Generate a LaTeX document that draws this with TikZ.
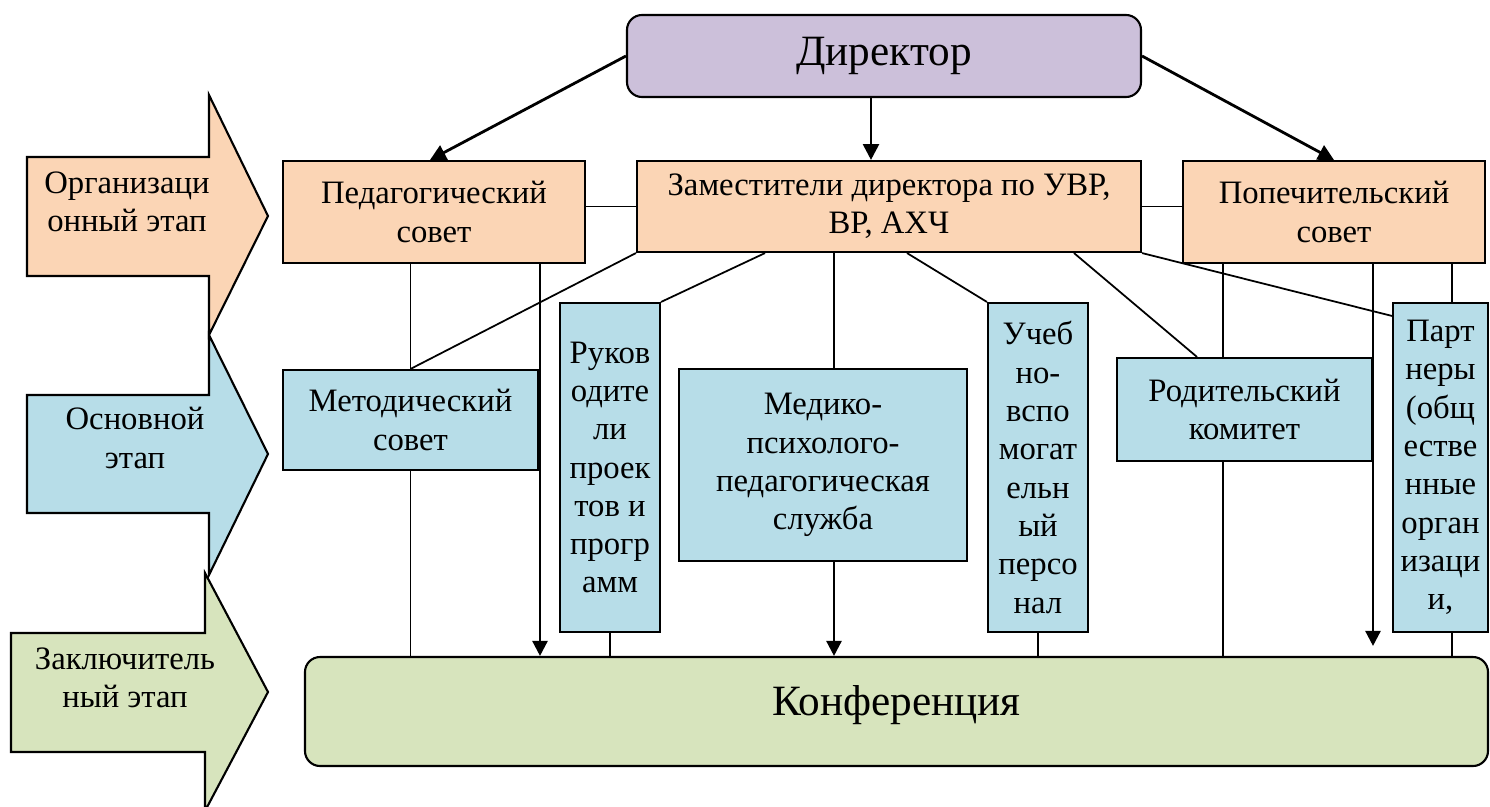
\documentclass[tikz,border=0pt]{standalone}
\usepackage{fontspec}
\setmainfont{Liberation Serif}
\usetikzlibrary{arrows.meta}
\definecolor{dirfill}{HTML}{CCC0DA}
\definecolor{orgfill}{HTML}{FBD5B5}
\definecolor{osnfill}{HTML}{B7DDE8}
\definecolor{zakfill}{HTML}{D7E4BD}
\newcommand{\txt}{\fontsize{9.3}{10.9}\selectfont}
\newcommand{\bigtxt}{\fontsize{12.3}{14}\selectfont}

\begin{document}
\begin{tikzpicture}[x=0.1mm, y=-0.1mm,
    box/.style={draw, line width=0.6pt, align=center, inner sep=0pt, font=\txt},
    stage/.style={draw, line width=0.6pt},
    conn/.style={line width=0.5pt},
    arr/.style={line width=0.7pt, -{Triangle[length=4.3pt,width=4.3pt]}},
    bigarr/.style={line width=0.8pt, -{Triangle[length=4.5pt,width=4.5pt]}}]
\clip (0,0) rectangle (1490,807);

% stage arrows
\draw[stage, fill=orgfill]
    (27,157) -- (209,157) -- (209,95) -- (268,216) --
    (209,335) -- (209,276) -- (27,276) -- cycle;
\draw[stage, fill=osnfill]
    (27,395) -- (209,395) -- (209,335) -- (268,454) --
    (209,575) -- (209,513) -- (27,513) -- cycle;
\draw[stage, fill=zakfill]
    (11,633) -- (205,633) -- (205,573) -- (268,692) --
    (205,811) -- (205,752) -- (11,752) -- cycle;
\node[align=center, font=\txt] (org) at (127,202) {Организаци\\онный этап};
\node[align=center, font=\txt] (osn) at (135,438) {Основной\\этап};
\node[align=center, font=\txt] (zak) at (125,678) {Заключитель\\ный этап};

% boxes
\node[box, fill=dirfill, rounded corners=1.5mm, font=\bigtxt,
    minimum width=51.4mm, minimum height=8.2mm] (dir) at (884,56) {Директор};
\node[box, fill=orgfill, minimum width=30.2mm, minimum height=10.2mm]
    (ped) at (434,212) {Педагогический\\совет};
\node[box, fill=orgfill, minimum width=50.4mm, minimum height=9.1mm]
    (zam) at (889,206.5) {Заместители директора по УВР,\\ВР, АХЧ};
\node[box, fill=orgfill, minimum width=30.2mm, minimum height=10.2mm]
    (pop) at (1334,212) {Попечительский\\совет};
\node[box, fill=osnfill, minimum width=25.5mm, minimum height=10mm]
    (met) at (410.5,420) {Методический\\совет};
\node[box, fill=osnfill, minimum width=10mm, minimum height=32.9mm]
    (ruk) at (610,467.5) {Руков\\одите\\ли\\проек\\тов и\\прогр\\амм};
\node[box, fill=osnfill, minimum width=28.8mm, minimum height=19.2mm]
    (med) at (823,465) {Медико-\\психолого-\\педагогическая\\служба};
\node[box, fill=osnfill, minimum width=10mm, minimum height=32.9mm]
    (uch) at (1038,467.5) {Учеб\\но-\\вспо\\могат\\ельн\\ый\\персо\\нал};
\node[box, fill=osnfill, minimum width=25.5mm, minimum height=10.3mm]
    (rod) at (1244.5,409.5) {Родительский\\комитет};
\node[box, fill=osnfill, minimum width=9.5mm, minimum height=32.9mm]
    (part) at (1440.5,467.5) {Парт\\неры\\(общ\\естве\\нные\\орган\\изаци\\и,};
\node[box, fill=zakfill, rounded corners=1.5mm, font=\bigtxt, text depth=6.5pt,
    minimum width=118.3mm, minimum height=10.9mm] (konf) at (896.5,711.5) {Конференция};

% x positions of the connectors
\coordinate (xf) at (430,0);
\coordinate (xd) at (871,0);
\coordinate (xp) at (540,0);
\coordinate (xa) at (765,0);
\coordinate (xm) at (834,0);
\coordinate (xb) at (907,0);
\coordinate (xc) at (1074,0);
\coordinate (xe) at (1197,0);
\coordinate (xr) at (1223,0);
\coordinate (xs) at (1373,0);
\coordinate (xt) at (1452,0);

% director
\draw[bigarr] (dir.west) -- (ped.north -| xf);
\draw[bigarr] (dir.south -| xd) -- (zam.north -| xd);
\draw[bigarr] (dir.east) -- (pop.north);

% first row
\draw[conn] (ped.east |- zam.west) -- (zam.west);
\draw[conn] (zam.east) -- (zam.east -| pop.west);

% deputies
\draw[conn] (zam.south west) -- (met.north);
\draw[conn] (zam.south -| xa) -- (ruk.north east);
\draw[conn] (zam.south -| xm) -- (med.north -| xm);
\draw[conn] (zam.south -| xb) -- (uch.north west);
\draw[conn] (zam.south -| xc) -- (rod.north -| xe);
\draw[conn] (zam.south east) -- ([yshift=-1.4mm]part.north west);

% down to the conference
\draw[conn] (ped.south -| met.north) -- (met.north);
\draw[conn] (met.south) -- (met.south |- konf.north);
\draw[arr] (ped.south -| xp) -- (konf.north -| xp);
\draw[conn] (ruk.south) -- (ruk.south |- konf.north);
\draw[arr] (med.south -| xm) -- (konf.north -| xm);
\draw[conn] (uch.south) -- (uch.south |- konf.north);
\draw[conn] (pop.south -| xr) -- (rod.north -| xr);
\draw[conn] (rod.south -| xr) -- (konf.north -| xr);
\draw[arr, shorten >=1mm] (pop.south -| xs) -- (konf.north -| xs);
\draw[conn] (pop.south -| xt) -- (part.north -| xt);
\draw[conn] (part.south -| xt) -- (konf.north -| xt);

\end{tikzpicture}
\end{document}
